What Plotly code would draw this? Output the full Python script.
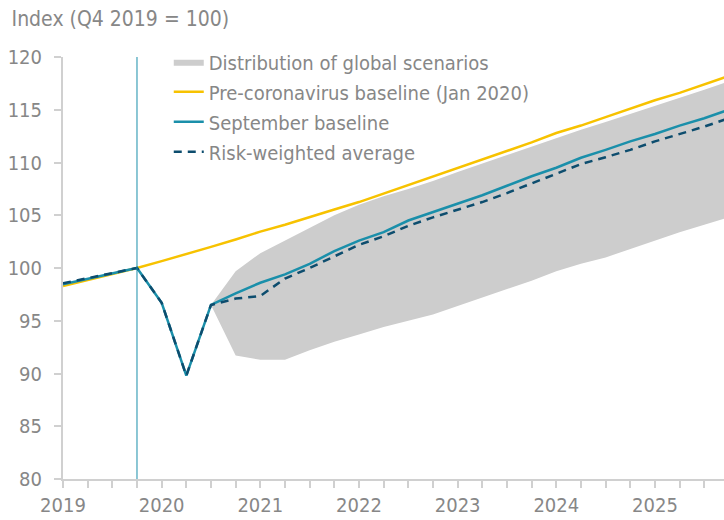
import plotly.graph_objects as go

# quarters 2019Q1 .. 2025Q4
quarters = [f"{y}Q{q}" for y in range(2019, 2026) for q in range(1, 5)]
year_labels = ["2019", "2020", "2021", "2022", "2023", "2024", "2025"]

pre_covid = [98.3, 98.85, 99.4, 100.0, 100.65, 101.3, 102.0, 102.7,
             103.45, 104.1, 104.85, 105.55, 106.25, 107.05, 107.85, 108.65,
             109.5, 110.3, 111.1, 111.9, 112.8, 113.5, 114.3, 115.1,
             115.9, 116.6, 117.4, 118.2]

september = [98.45, 98.95, 99.5, 100.0, 96.7, 89.8, 96.5, 97.6,
             98.6, 99.4, 100.4, 101.6, 102.6, 103.4, 104.5, 105.3,
             106.1, 106.9, 107.8, 108.7, 109.5, 110.45, 111.2, 112.0,
             112.7, 113.5, 114.2, 115.0]

risk_weighted = [98.55, 99.05, 99.55, 100.0, 96.7, 89.8, 96.5, 97.1,
                 97.35, 99.0, 100.0, 101.1, 102.2, 103.0, 104.0, 104.8,
                 105.5, 106.25, 107.1, 108.0, 108.9, 109.85, 110.5, 111.2,
                 112.0, 112.7, 113.4, 114.2]

# scenario distribution starts at 2020Q3
fan_start = 6
fan_upper = [96.5, 99.7, 101.4, 102.6, 103.8, 105.0, 106.0, 106.8,
             107.5, 108.25, 109.1, 109.9, 110.7, 111.5, 112.35, 113.1,
             113.85, 114.6, 115.4, 116.1, 116.9, 117.7]
fan_lower = [96.5, 91.7, 91.3, 91.3, 92.2, 93.0, 93.7, 94.4,
             95.0, 95.6, 96.4, 97.2, 98.0, 98.8, 99.7, 100.4,
             101.0, 101.8, 102.6, 103.4, 104.1, 104.8]

x = list(range(len(quarters)))
x_fan = x[fan_start:]

YELLOW = "#F7C200"
TEAL = "#1A8FAA"
NAVY = "#0D4D6E"
GREY_FILL = "#CDCDCD"
TEXT = "#878787"
AXIS = "#D0D0D0"
FONT = "Liberation Sans Narrow, DejaVu Sans Condensed, Roboto, sans-serif"

fig = go.Figure()

fig.add_trace(go.Scatter(
    x=x_fan, y=fan_lower, mode="lines", line=dict(width=0, color=GREY_FILL),
    showlegend=False, hoverinfo="skip", legendgroup="a"
))
fig.add_trace(go.Scatter(
    x=x_fan, y=fan_upper, mode="lines", line=dict(width=0, color=GREY_FILL),
    fill="tonexty", fillcolor=GREY_FILL, name="Distribution of global scenarios",
    legendgroup="a"
))
fig.add_trace(go.Scatter(
    x=x, y=pre_covid, mode="lines", line=dict(color=YELLOW, width=2.5),
    name="Pre-coronavirus baseline (Jan 2020)", legendgroup="b"
))
fig.add_trace(go.Scatter(
    x=x, y=september, mode="lines", line=dict(color=TEAL, width=2.5),
    name="September baseline", legendgroup="c"
))
fig.add_trace(go.Scatter(
    x=x, y=risk_weighted, mode="lines", line=dict(color=NAVY, width=2.5, dash="8px,6px"),
    name="Risk-weighted average", legendgroup="d"
))

# Q4 2019 reference line
fig.add_vline(x=quarters.index("2019Q4"), line=dict(color=TEAL, width=1))

fig.update_xaxes(
    range=[0, 26.8],
    tickvals=[quarters.index(f"{y}Q1") for y in year_labels],
    ticktext=year_labels,
    ticks="outside", ticklen=7, tickcolor=AXIS, tickwidth=1.5,
    minor=dict(dtick=1, tick0=0, ticks="outside", ticklen=7, tickcolor=AXIS, tickwidth=1.5),
    showline=True, linecolor=AXIS, linewidth=2,
    showgrid=False, zeroline=False,
    tickfont=dict(size=20, color=TEXT),
)
fig.update_yaxes(
    range=[80, 120], dtick=5,
    ticks="outside", ticklen=7, tickcolor=AXIS, tickwidth=1.5,
    showline=True, linecolor=AXIS, linewidth=2,
    showgrid=False, zeroline=False,
    ticklabelstandoff=8,
    tickfont=dict(size=20, color=TEXT),
)

fig.update_layout(
    width=724, height=520,
    paper_bgcolor="white", plot_bgcolor="white",
    font=dict(family=FONT, color=TEXT, size=20),
    title=dict(text="Index (Q4 2019 = 100)", x=0.016, xanchor="left",
               y=0.965, yanchor="middle", font=dict(size=21, color=TEXT)),
    margin=dict(l=63, r=0, t=57, b=41),
    legend=dict(x=0.16, y=1.035, xanchor="left", yanchor="top",
                bgcolor="rgba(0,0,0,0)", font=dict(size=20, color=TEXT),
                tracegroupgap=1, itemwidth=30),
    showlegend=True,
)

fig.write_html("out.html", config={"displayModeBar": False},
               post_script="document.body.style.margin='0px';")
